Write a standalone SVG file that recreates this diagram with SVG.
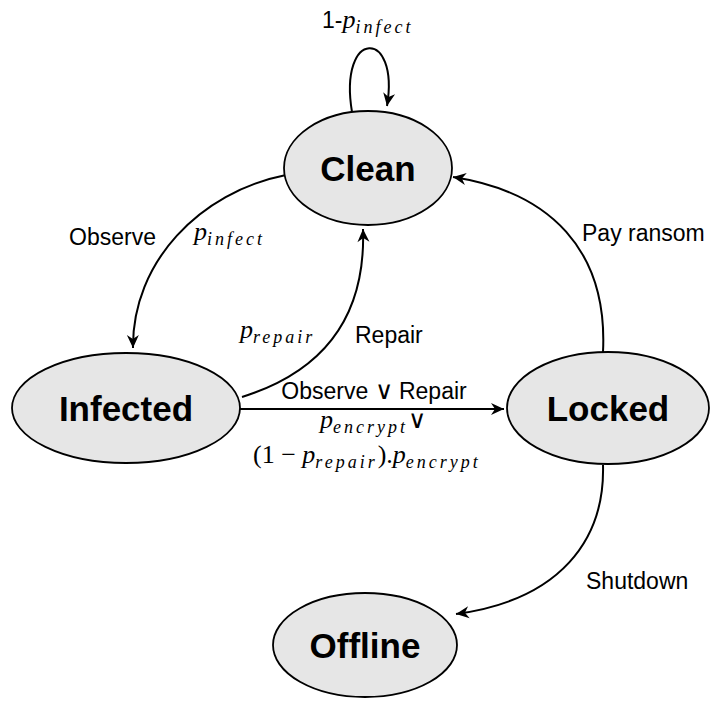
<svg xmlns="http://www.w3.org/2000/svg" width="712" height="706" viewBox="0 0 712 706">
<style>
.node ellipse{fill:#e6e6e6;stroke:#000;stroke-width:1.8}
.node text{font-family:"Liberation Sans",Arial,sans-serif;font-weight:bold;font-size:35px;text-anchor:middle}
.edge{fill:none;stroke:#000;stroke-width:2}
.lbl{font-family:"Liberation Sans",Arial,sans-serif;font-size:23px}
.math{font-family:"Liberation Serif","Times New Roman",serif;font-style:italic;font-size:26px}
.sub{font-size:18px;letter-spacing:3px}
.rm{font-style:normal;letter-spacing:0}
.or{font-family:"DejaVu Sans",sans-serif;font-style:normal;font-size:25px;font-weight:200;letter-spacing:0}
</style>
<defs>
<marker id="ah" markerUnits="userSpaceOnUse" markerWidth="18" markerHeight="16" viewBox="-14 -8 16 16" refX="0" refY="0" orient="auto">
<path d="M0,0 L-13,-6 L-9,0 L-13,6 Z" fill="#000"/>
</marker>
</defs>
<g id="connectors">
<path class="edge" d="M352,112 C338,28 400,28 387,106" marker-end="url(#ah)"/>
<path class="edge" d="M286,175 C200,192 132,262 133,348" marker-end="url(#ah)"/>
<path class="edge" d="M242,397 C322,372 366,318 363,229" marker-end="url(#ah)"/>
<path class="edge" d="M240,409 L504,409" marker-end="url(#ah)"/>
<path class="edge" d="M603,352 C608,250 550,192 453,177" marker-end="url(#ah)"/>
<path class="edge" d="M603,465 C605,540 560,600 456,614" marker-end="url(#ah)"/>
</g>
<g id="labels">
<text class="lbl" x="322" y="28">1-<tspan class="math">p<tspan class="sub" dy="5">infect</tspan></tspan></text>
<text class="lbl" x="69" y="245">Observe</text>
<text class="math" x="194" y="240">p<tspan class="sub" dy="5">infect</tspan></text>
<text class="math" x="240" y="338">p<tspan class="sub" dy="5">repair</tspan></text>
<text class="lbl" x="355" y="343">Repair</text>
<text class="lbl" x="374" y="399" text-anchor="middle">Observe <tspan class="or" font-size="22">∨</tspan> Repair</text>
<text class="math" x="320" y="428">p<tspan class="sub" dy="5">encrypt</tspan><tspan class="or" dy="-5">∨</tspan></text>
<text class="math" x="253" y="463"><tspan class="rm">(1 − </tspan>p<tspan class="sub" dy="5">repair</tspan><tspan class="rm" dy="-5">).</tspan>p<tspan class="sub" dy="5">encrypt</tspan></text>
<text class="lbl" x="582" y="241">Pay ransom</text>
<text class="lbl" x="586" y="589">Shutdown</text>
</g>
<g id="clean" class="node"><ellipse cx="368" cy="168" rx="84" ry="57"/><text x="368" y="181">Clean</text></g>
<g id="infected" class="node"><ellipse cx="126" cy="408" rx="114" ry="55"/><text x="126" y="421">Infected</text></g>
<g id="locked" class="node"><ellipse cx="608" cy="408" rx="101" ry="56"/><text x="608" y="421">Locked</text></g>
<g id="offline" class="node"><ellipse cx="365" cy="645" rx="92" ry="52"/><text x="365" y="658">Offline</text></g>
</svg>
